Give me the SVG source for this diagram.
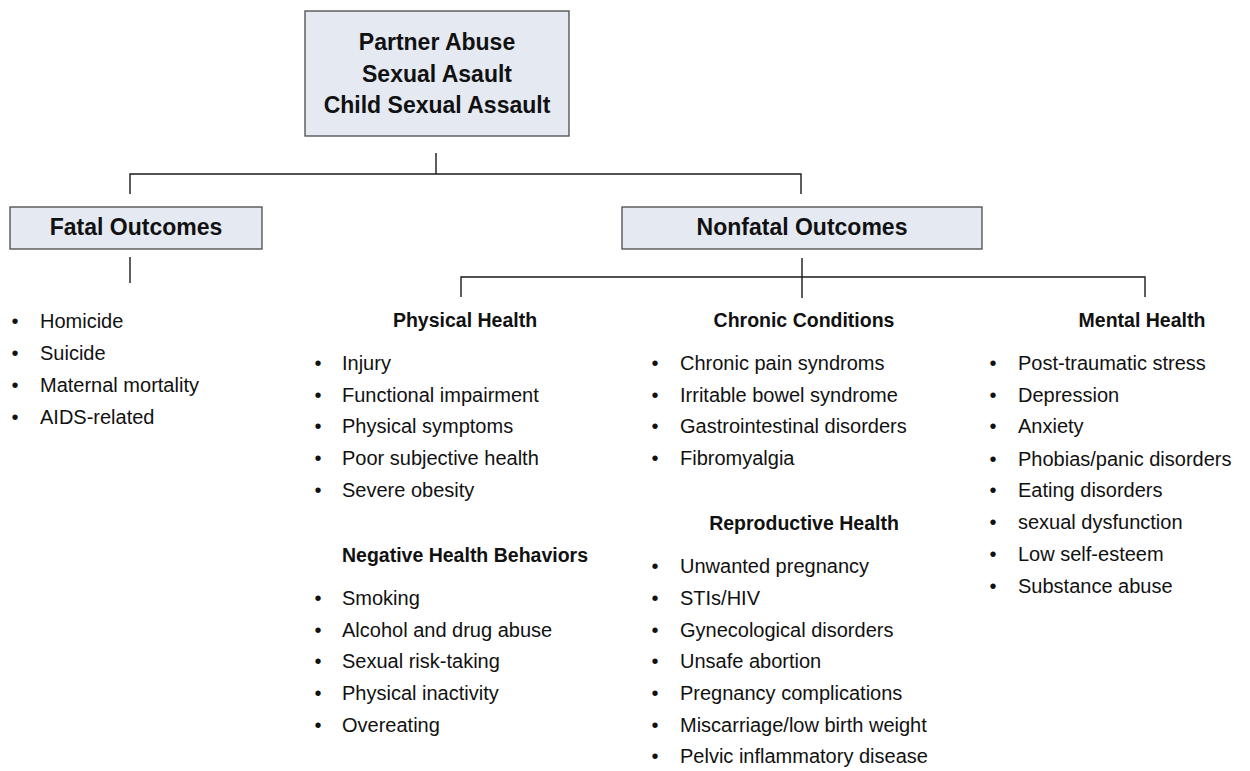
<svg xmlns="http://www.w3.org/2000/svg" width="1250" height="771" viewBox="0 0 1250 771">
<style>
.box{fill:#e4e9f2;stroke:#4a4a4a;stroke-width:1.3}
.ln{stroke:#1a1a1a;stroke-width:1.4;fill:none}
.t{font-family:"Liberation Sans",Arial,sans-serif;fill:#111}
.title{font-size:23px;font-weight:bold;text-anchor:middle}
.hd{font-size:19.5px;font-weight:bold;text-anchor:middle}
.li{font-size:20px}
.bu{font-size:20px;text-anchor:middle}
</style>
<rect width="1250" height="771" fill="#fff"/>
<g id="connectors">
<path class="ln" d="M436 153V174M130 194V174H801V194"/>
<path class="ln" d="M130 257V283"/>
<path class="ln" d="M802 258V298M461 297V277H1145V297"/>
</g>
<g id="root">
<rect class="box" x="305" y="11" width="264" height="125"/>
<text class="t title" x="437" y="50">Partner Abuse</text>
<text class="t title" x="437" y="82">Sexual Asault</text>
<text class="t title" x="437" y="113">Child Sexual Assault</text>
</g>
<g id="fatal">
<rect class="box" x="10" y="207" width="252" height="42"/>
<text class="t title" x="136" y="235">Fatal Outcomes</text>
</g>
<g id="nonfatal">
<rect class="box" x="622" y="207" width="360" height="42"/>
<text class="t title" x="802" y="235">Nonfatal Outcomes</text>
</g>
<g id="fatal-list">
<g class="t bu"><text x="15" y="328">•</text><text x="15" y="360">•</text><text x="15" y="392">•</text><text x="15" y="424">•</text></g>
<g class="t li"><text x="40" y="328">Homicide</text><text x="40" y="360">Suicide</text><text x="40" y="392">Maternal mortality</text><text x="40" y="424">AIDS-related</text></g>
</g>
<g id="physical-health">
<text class="t hd" x="465" y="327">Physical Health</text>
<g class="t bu"><text x="318" y="370">•</text><text x="318" y="402">•</text><text x="318" y="433">•</text><text x="318" y="465">•</text><text x="318" y="497">•</text></g>
<g class="t li"><text x="342" y="370">Injury</text><text x="342" y="402">Functional impairment</text><text x="342" y="433">Physical symptoms</text><text x="342" y="465">Poor subjective health</text><text x="342" y="497">Severe obesity</text></g>
</g>
<g id="negative-health-behaviors">
<text class="t hd" x="465" y="562">Negative Health Behaviors</text>
<g class="t bu"><text x="318" y="605">•</text><text x="318" y="637">•</text><text x="318" y="668">•</text><text x="318" y="700">•</text><text x="318" y="732">•</text></g>
<g class="t li"><text x="342" y="605">Smoking</text><text x="342" y="637">Alcohol and drug abuse</text><text x="342" y="668">Sexual risk-taking</text><text x="342" y="700">Physical inactivity</text><text x="342" y="732">Overeating</text></g>
</g>
<g id="chronic-conditions">
<text class="t hd" x="804" y="327">Chronic Conditions</text>
<g class="t bu"><text x="655" y="370">•</text><text x="655" y="402">•</text><text x="655" y="433">•</text><text x="655" y="465">•</text></g>
<g class="t li"><text x="680" y="370">Chronic pain syndroms</text><text x="680" y="402">Irritable bowel syndrome</text><text x="680" y="433">Gastrointestinal disorders</text><text x="680" y="465">Fibromyalgia</text></g>
</g>
<g id="reproductive-health">
<text class="t hd" x="804" y="530">Reproductive Health</text>
<g class="t bu"><text x="655" y="573">•</text><text x="655" y="605">•</text><text x="655" y="637">•</text><text x="655" y="668">•</text><text x="655" y="700">•</text><text x="655" y="732">•</text><text x="655" y="763">•</text></g>
<g class="t li"><text x="680" y="573">Unwanted pregnancy</text><text x="680" y="605">STIs/HIV</text><text x="680" y="637">Gynecological disorders</text><text x="680" y="668">Unsafe abortion</text><text x="680" y="700">Pregnancy complications</text><text x="680" y="732">Miscarriage/low birth weight</text><text x="680" y="763">Pelvic inflammatory disease</text></g>
</g>
<g id="mental-health">
<text class="t hd" x="1142" y="327">Mental Health</text>
<g class="t bu"><text x="993" y="370">•</text><text x="993" y="402">•</text><text x="993" y="433">•</text><text x="993" y="466">•</text><text x="993" y="497">•</text><text x="993" y="529">•</text><text x="993" y="561">•</text><text x="993" y="593">•</text></g>
<g class="t li"><text x="1018" y="370">Post-traumatic stress</text><text x="1018" y="402">Depression</text><text x="1018" y="433">Anxiety</text><text x="1018" y="466">Phobias/panic disorders</text><text x="1018" y="497">Eating disorders</text><text x="1018" y="529">sexual dysfunction</text><text x="1018" y="561">Low self-esteem</text><text x="1018" y="593">Substance abuse</text></g>
</g>
</svg>
